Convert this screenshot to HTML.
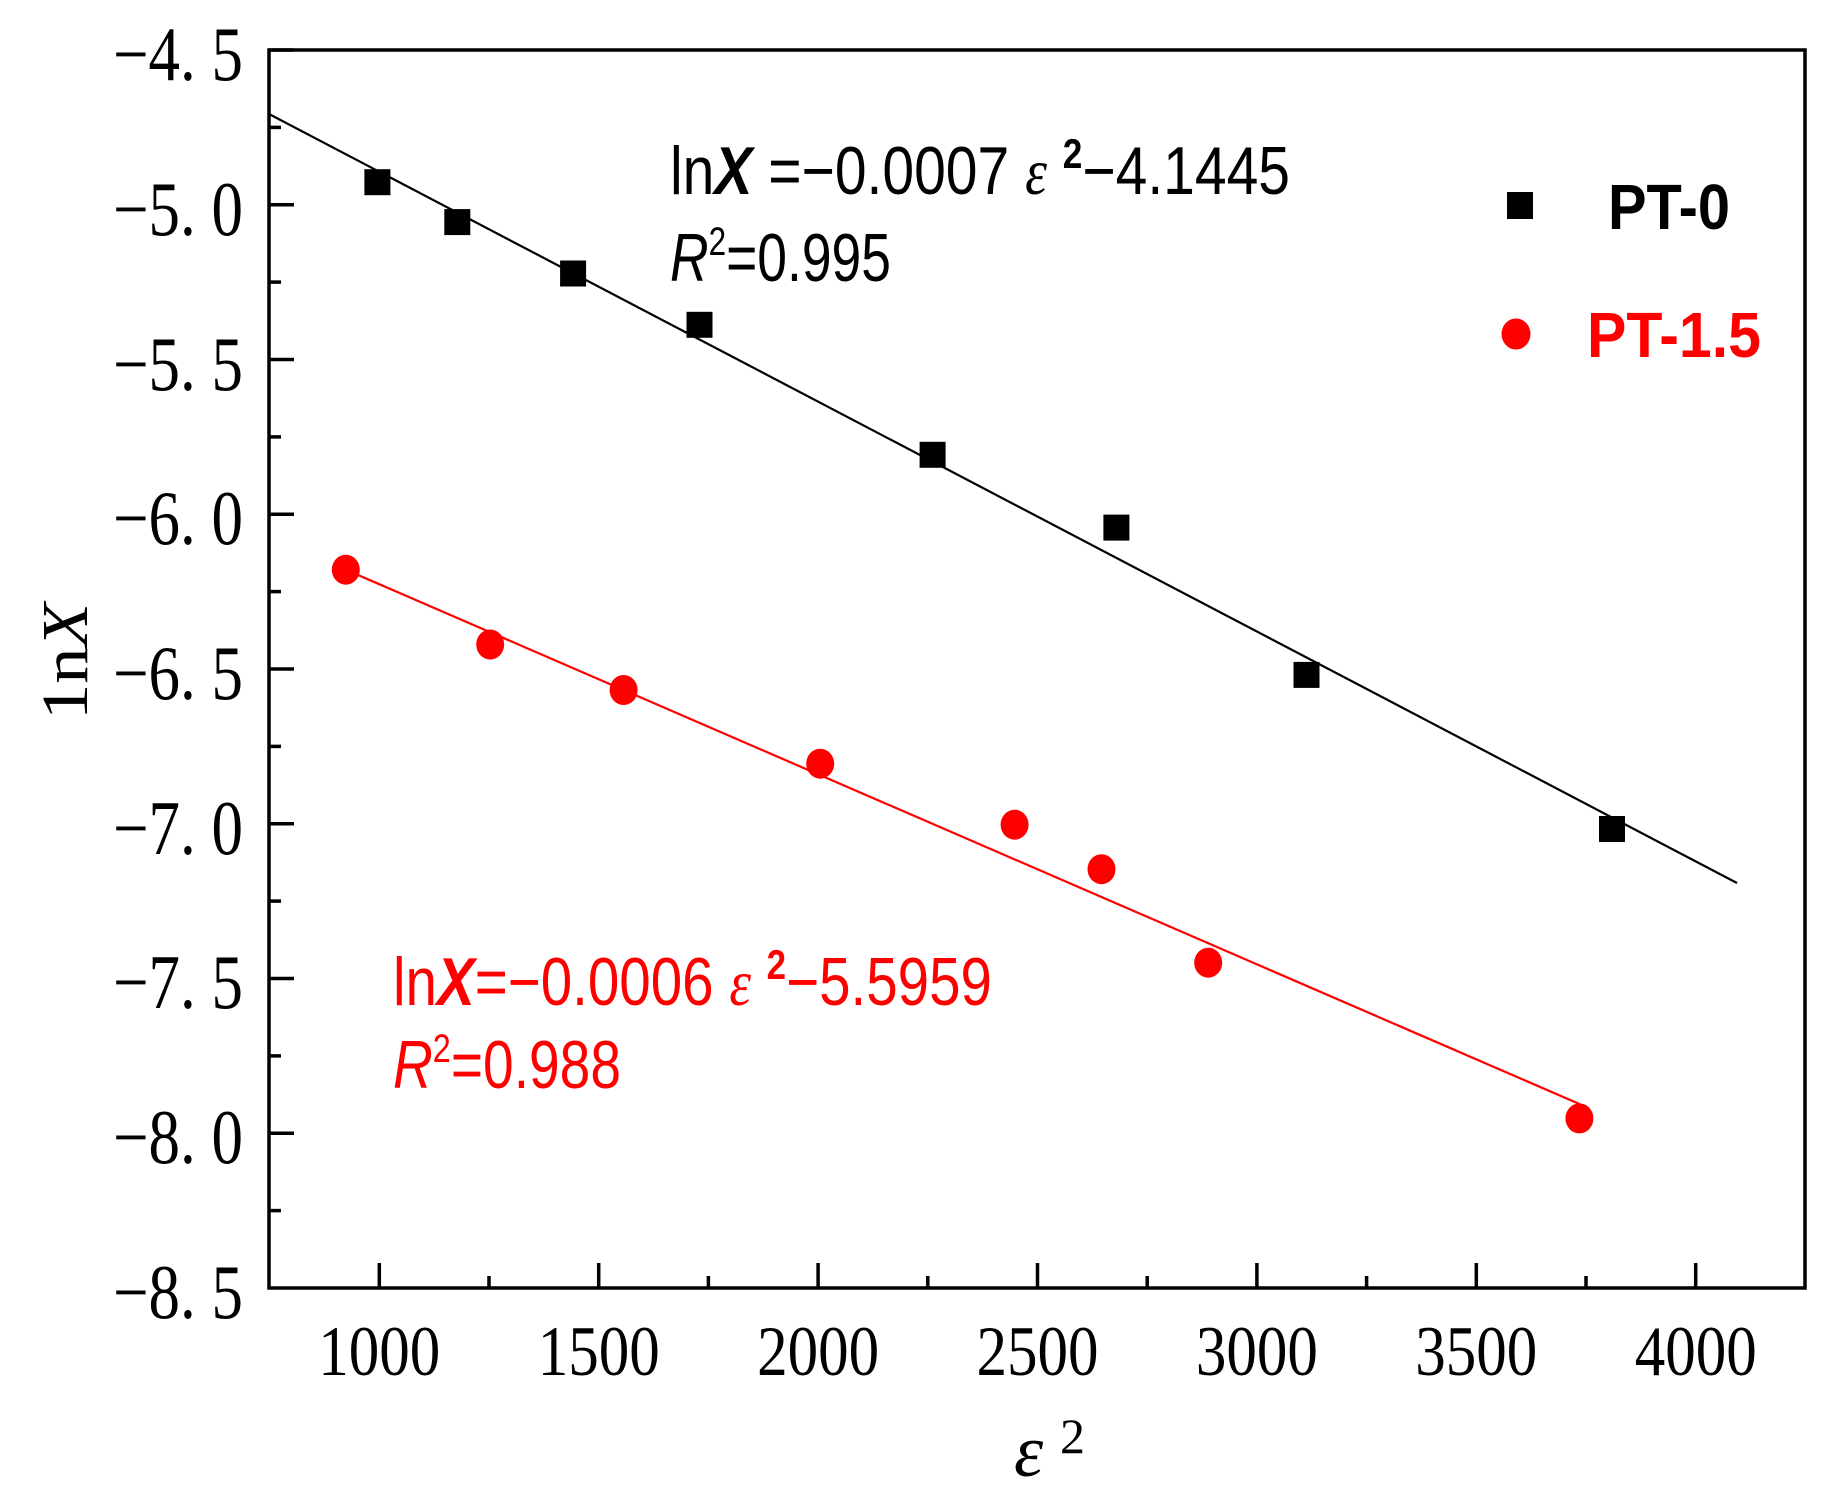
<!DOCTYPE html>
<html><head><meta charset="utf-8"><style>html,body{margin:0;padding:0;background:#fff;}svg{display:block}</style></head>
<body>
<svg width="1837" height="1510" viewBox="0 0 1837 1510" xmlns="http://www.w3.org/2000/svg">
<rect width="1837" height="1510" fill="#fff"/>
<g stroke="#000" stroke-width="3.5">
<line x1="269" y1="50" x2="294" y2="50"/>
<line x1="269" y1="127.4" x2="281" y2="127.4"/>
<line x1="269" y1="204.75" x2="294" y2="204.75"/>
<line x1="269" y1="282.1" x2="281" y2="282.1"/>
<line x1="269" y1="359.5" x2="294" y2="359.5"/>
<line x1="269" y1="436.9" x2="281" y2="436.9"/>
<line x1="269" y1="514.25" x2="294" y2="514.25"/>
<line x1="269" y1="591.6" x2="281" y2="591.6"/>
<line x1="269" y1="669" x2="294" y2="669"/>
<line x1="269" y1="746.4" x2="281" y2="746.4"/>
<line x1="269" y1="823.75" x2="294" y2="823.75"/>
<line x1="269" y1="901.1" x2="281" y2="901.1"/>
<line x1="269" y1="978.5" x2="294" y2="978.5"/>
<line x1="269" y1="1055.9" x2="281" y2="1055.9"/>
<line x1="269" y1="1133.25" x2="294" y2="1133.25"/>
<line x1="269" y1="1210.6" x2="281" y2="1210.6"/>
<line x1="379.3" y1="1288" x2="379.3" y2="1263"/>
<line x1="489" y1="1288" x2="489" y2="1276"/>
<line x1="598.7" y1="1288" x2="598.7" y2="1263"/>
<line x1="708.4" y1="1288" x2="708.4" y2="1276"/>
<line x1="818.1" y1="1288" x2="818.1" y2="1263"/>
<line x1="927.8" y1="1288" x2="927.8" y2="1276"/>
<line x1="1037.5" y1="1288" x2="1037.5" y2="1263"/>
<line x1="1147.2" y1="1288" x2="1147.2" y2="1276"/>
<line x1="1256.9" y1="1288" x2="1256.9" y2="1263"/>
<line x1="1366.6" y1="1288" x2="1366.6" y2="1276"/>
<line x1="1476.3" y1="1288" x2="1476.3" y2="1263"/>
<line x1="1586" y1="1288" x2="1586" y2="1276"/>
<line x1="1695.7" y1="1288" x2="1695.7" y2="1263"/>
</g>
<rect x="269" y="50" width="1536" height="1238" fill="none" stroke="#000" stroke-width="3.5"/>
<g font-family="'Liberation Serif', serif" font-size="77" fill="#000" text-anchor="end">
<text x="243" y="80" textLength="130" lengthAdjust="spacingAndGlyphs">−4. 5</text>
<text x="243" y="235" textLength="130" lengthAdjust="spacingAndGlyphs">−5. 0</text>
<text x="243" y="390" textLength="130" lengthAdjust="spacingAndGlyphs">−5. 5</text>
<text x="243" y="544" textLength="130" lengthAdjust="spacingAndGlyphs">−6. 0</text>
<text x="243" y="699" textLength="130" lengthAdjust="spacingAndGlyphs">−6. 5</text>
<text x="243" y="854" textLength="130" lengthAdjust="spacingAndGlyphs">−7. 0</text>
<text x="243" y="1008" textLength="130" lengthAdjust="spacingAndGlyphs">−7. 5</text>
<text x="243" y="1163" textLength="130" lengthAdjust="spacingAndGlyphs">−8. 0</text>
<text x="243" y="1318" textLength="130" lengthAdjust="spacingAndGlyphs">−8. 5</text>
</g>
<g font-family="'Liberation Serif', serif" font-size="71" fill="#000">
<text x="318.3" y="1375" textLength="122" lengthAdjust="spacingAndGlyphs">1000</text>
<text x="537.7" y="1375" textLength="122" lengthAdjust="spacingAndGlyphs">1500</text>
<text x="757.1" y="1375" textLength="122" lengthAdjust="spacingAndGlyphs">2000</text>
<text x="976.5" y="1375" textLength="122" lengthAdjust="spacingAndGlyphs">2500</text>
<text x="1195.9" y="1375" textLength="122" lengthAdjust="spacingAndGlyphs">3000</text>
<text x="1415.3" y="1375" textLength="122" lengthAdjust="spacingAndGlyphs">3500</text>
<text x="1634.7" y="1375" textLength="122" lengthAdjust="spacingAndGlyphs">4000</text>
</g>
<text x="1014" y="1476" font-family="'Liberation Serif', serif" font-style="italic" font-size="74" fill="#000">ε</text>
<text x="1060" y="1453" font-family="'Liberation Serif', serif" font-size="50" fill="#000">2</text>
<text transform="translate(87,720) rotate(-90)" font-family="'Liberation Serif', serif" font-size="66" fill="#000" textLength="117" lengthAdjust="spacingAndGlyphs">1n<tspan font-style="italic">X</tspan></text>
<line x1="269" y1="114" x2="1737" y2="883" stroke="#000" stroke-width="2.2"/>
<line x1="345.8" y1="569.7" x2="1579.4" y2="1104" stroke="#ff0000" stroke-width="2.2"/>
<g fill="#000">
<rect x="364.4" y="169.2" width="26" height="26"/>
<rect x="444.3" y="209.1" width="26" height="26"/>
<rect x="560.1" y="260.5" width="26" height="26"/>
<rect x="686.5" y="311.8" width="26" height="26"/>
<rect x="919.6" y="441.8" width="26" height="26"/>
<rect x="1103.4" y="514.6" width="26" height="26"/>
<rect x="1293.5" y="661.9" width="26" height="26"/>
<rect x="1599" y="816" width="26" height="26"/>
</g>
<g fill="#ff0000">
<ellipse cx="345.8" cy="569.7" rx="14" ry="15"/>
<ellipse cx="490.2" cy="644.5" rx="14" ry="15"/>
<ellipse cx="623.6" cy="690" rx="14" ry="15"/>
<ellipse cx="820.2" cy="763.7" rx="14" ry="15"/>
<ellipse cx="1014.6" cy="824.7" rx="14" ry="15"/>
<ellipse cx="1101.5" cy="869.2" rx="14" ry="15"/>
<ellipse cx="1208.2" cy="962.7" rx="14" ry="15"/>
<ellipse cx="1579.4" cy="1118.4" rx="14" ry="15"/>
</g>
<rect x="1507" y="192" width="26" height="27" fill="#000"/>
<text x="1608" y="229" font-family="'Liberation Sans', sans-serif" font-weight="bold" font-size="64" fill="#000" textLength="122" lengthAdjust="spacingAndGlyphs">PT-0</text>
<ellipse cx="1516" cy="334" rx="14.5" ry="15.5" fill="#ff0000"/>
<text x="1587" y="357" font-family="'Liberation Sans', sans-serif" font-weight="bold" font-size="64" fill="#ff0000" textLength="174" lengthAdjust="spacingAndGlyphs">PT-1.5</text>
<g font-family="'Liberation Sans', sans-serif" font-size="68" fill="#000">
<text x="670" y="194" textLength="620" lengthAdjust="spacingAndGlyphs">ln<tspan font-weight="bold" font-style="italic">X</tspan> =−0.0007  <tspan font-family="'Liberation Serif', serif" font-style="italic" font-size="66">ε</tspan> <tspan font-weight="bold" font-size="42" dy="-26">2</tspan><tspan dy="26">−4.1445</tspan></text>
<text x="670" y="281" textLength="221" lengthAdjust="spacingAndGlyphs"><tspan font-style="italic">R</tspan><tspan font-size="40" dy="-26">2</tspan><tspan dy="26">=0.995</tspan></text>
</g>
<g font-family="'Liberation Sans', sans-serif" font-size="68" fill="#ff0000">
<text x="393" y="1005" textLength="599" lengthAdjust="spacingAndGlyphs">ln<tspan font-weight="bold" font-style="italic">X</tspan>=−0.0006  <tspan font-family="'Liberation Serif', serif" font-style="italic" font-size="66">ε</tspan> <tspan font-weight="bold" font-size="42" dy="-26">2</tspan><tspan dy="26">−5.5959</tspan></text>
<text x="393" y="1088" textLength="228" lengthAdjust="spacingAndGlyphs"><tspan font-style="italic">R</tspan><tspan font-size="40" dy="-26">2</tspan><tspan dy="26">=0.988</tspan></text>
</g>
</svg>
</body></html>
